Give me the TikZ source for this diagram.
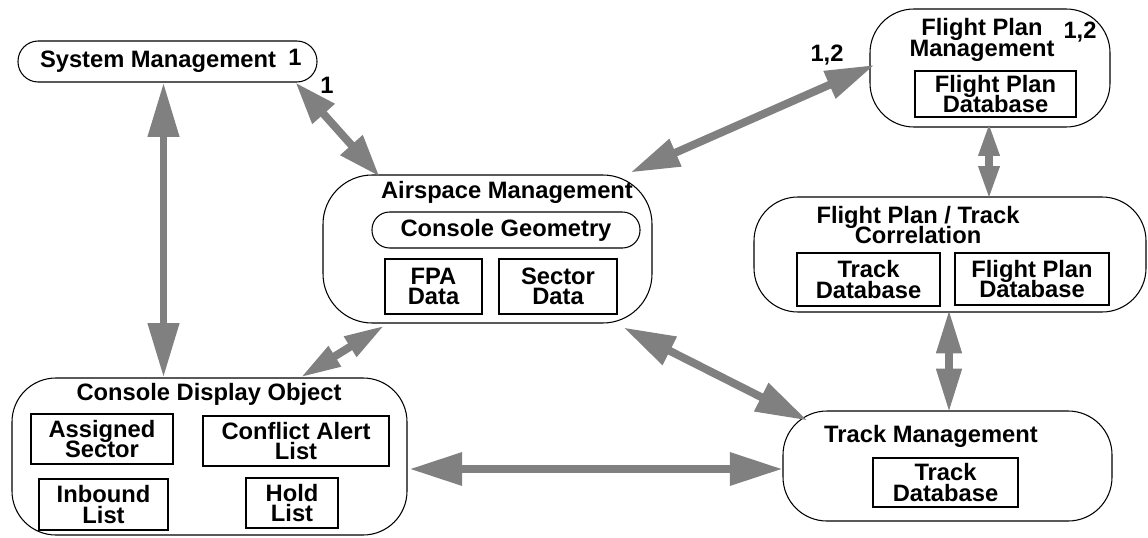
\documentclass[tikz,border=0pt]{standalone}
\usepackage{fontspec}
\setmainfont{Liberation Sans}
\usepackage{tikz}
\usetikzlibrary{arrows.meta,calc}

\newlength\pu
\setlength\pu{0.02cm}
\newcommand\dfdfont{\fontsize{13.5}{11.5}\selectfont\bfseries\lineskiplimit=-20pt\relax}
\definecolor{linkgray}{RGB}{128,128,128}

\begin{document}
\begin{tikzpicture}[x=1\pu, y=-1\pu,
    outer/.style={draw, line width=0.6pt, rounded corners=25pt, inner sep=0pt},
    pill/.style={draw, line width=0.6pt, rounded corners=10pt, inner sep=0pt, font=\dfdfont},
    store/.style={draw, line width=1.2pt, inner sep=0pt, align=center, font=\dfdfont},
    title/.style={inner sep=0pt, align=center, font=\dfdfont},
    link/.style 2 args={draw=linkgray, line width=4.5pt, >={Triangle[length=#1, width=#2]}, <->}]
            \useasboundingbox (0,0) rectangle (1148,537);

            \node[outer, rounded corners=11.5pt, minimum width=299\pu, minimum height=41\pu] (sysmgmt) at (167.5,61.5) {};
            \node[title] (sysmgmtT) at (158,62) {System Management};
            \node[title] (sysmgmtN) at (295,57) {1};

            \node[outer, rounded corners=28pt, minimum width=329\pu, minimum height=148\pu] (airspace) at (487.5,249) {};
            \node[title] (airspaceT) at (507,192) {Airspace Management};
            \node[pill, minimum width=268\pu, minimum height=36\pu] (geometry) at (506,230) {Console Geometry};
            \node[store, minimum width=97\pu, minimum height=55\pu] (fpadata) at (433.5,286.5) {FPA\\Data};
            \node[store, minimum width=118\pu, minimum height=55\pu] (sectordata) at (558,286.5) {Sector\\Data};

            \node[outer, minimum width=240\pu, minimum height=118\pu] (fpmgmt) at (990,68) {};
            \node[title] (fpmgmtT) at (982,40) {Flight Plan\\Management};
            \node[title] (fpmgmtN) at (1080,32) {1,2};
            \node[store, minimum width=161\pu, minimum height=46\pu] (fpmgmtdb) at (995.5,94) {Flight Plan\\Database};

            \node[outer, minimum width=392\pu, minimum height=115\pu] (fptc) at (950,254.5) {};
            \node[title] (fptcT) at (918,225) {Flight Plan / Track\\Correlation};
            \node[store, minimum width=143\pu, minimum height=53\pu] (fptctrackdb) at (868.5,279.5) {Track\\Database};
            \node[store, minimum width=154\pu, minimum height=52\pu] (fptcfpdb) at (1032,279) {Flight Plan\\Database};

            \node[outer, minimum width=395\pu, minimum height=157\pu] (cdo) at (209.5,456.5) {};
            \node[title] (cdoT) at (209,394) {Console Display Object};
            \node[store, minimum width=142\pu, minimum height=50\pu] (assigned) at (102,439) {Assigned\\Sector};
            \node[store, minimum width=186\pu, minimum height=50\pu] (conflict) at (296,441) {Conflict Alert\\List};
            \node[store, minimum width=129\pu, minimum height=51\pu] (inbound) at (103.5,504.5) {Inbound\\List};
            \node[store, minimum width=92\pu, minimum height=50\pu] (hold) at (292,503) {Hold\\List};

            \node[outer, minimum width=329\pu, minimum height=110\pu] (trackmgmt) at (947.5,466) {};
            \node[title] (trackmgmtT) at (931,436) {Track Management};
            \node[store, minimum width=145\pu, minimum height=49\pu] (trackmgmtdb) at (945.5,482.5) {Track\\Database};

            % connectors
            \draw[link={31pt}{17pt}] ($(sysmgmt.south)+(-4,0)$) -- ($(sysmgmt.south |- cdo.north)+(-4,0)$);
            \draw[link={24pt}{16pt}] ($(sysmgmt.south east)+(-22,0)$) -- ($(airspace.north west)+(57,2)$);
            \draw[link={28pt}{16pt}] ($(airspace.north east)+(-22,-2)$) -- ($(fpmgmt.west)+(5,-3)$);
            \draw[link={23pt}{12.5pt}] ($(airspace.south west)+(62,2)$) -- ($(cdo.north)+(91,0)$);
            \draw[link={29.5pt}{17pt}] ($(airspace.south east)+(-29,4)$) -- ($(trackmgmt.north west)+(25,10)$);
            \draw[link={30pt}{18pt}] ($(cdo.east)+(2,12.5)$) -- ($(trackmgmt.west)+(0,3)$);
            \draw[link={19pt}{11pt}] ($(fpmgmt.south)+(-1,-5)$) -- ($(fpmgmt.south |- fptc.north)+(-1,3)$);
            \draw[link={25pt}{13.6pt}] ($(fptc.south)+(-1,-3)$) -- ($(fptc.south |- trackmgmt.north)+(-1,2)$);

            \node[title] (linkA) at (327,85) {1};
            \node[title] (linkB) at (827,55) {1,2};
        \end{tikzpicture}
\end{document}
